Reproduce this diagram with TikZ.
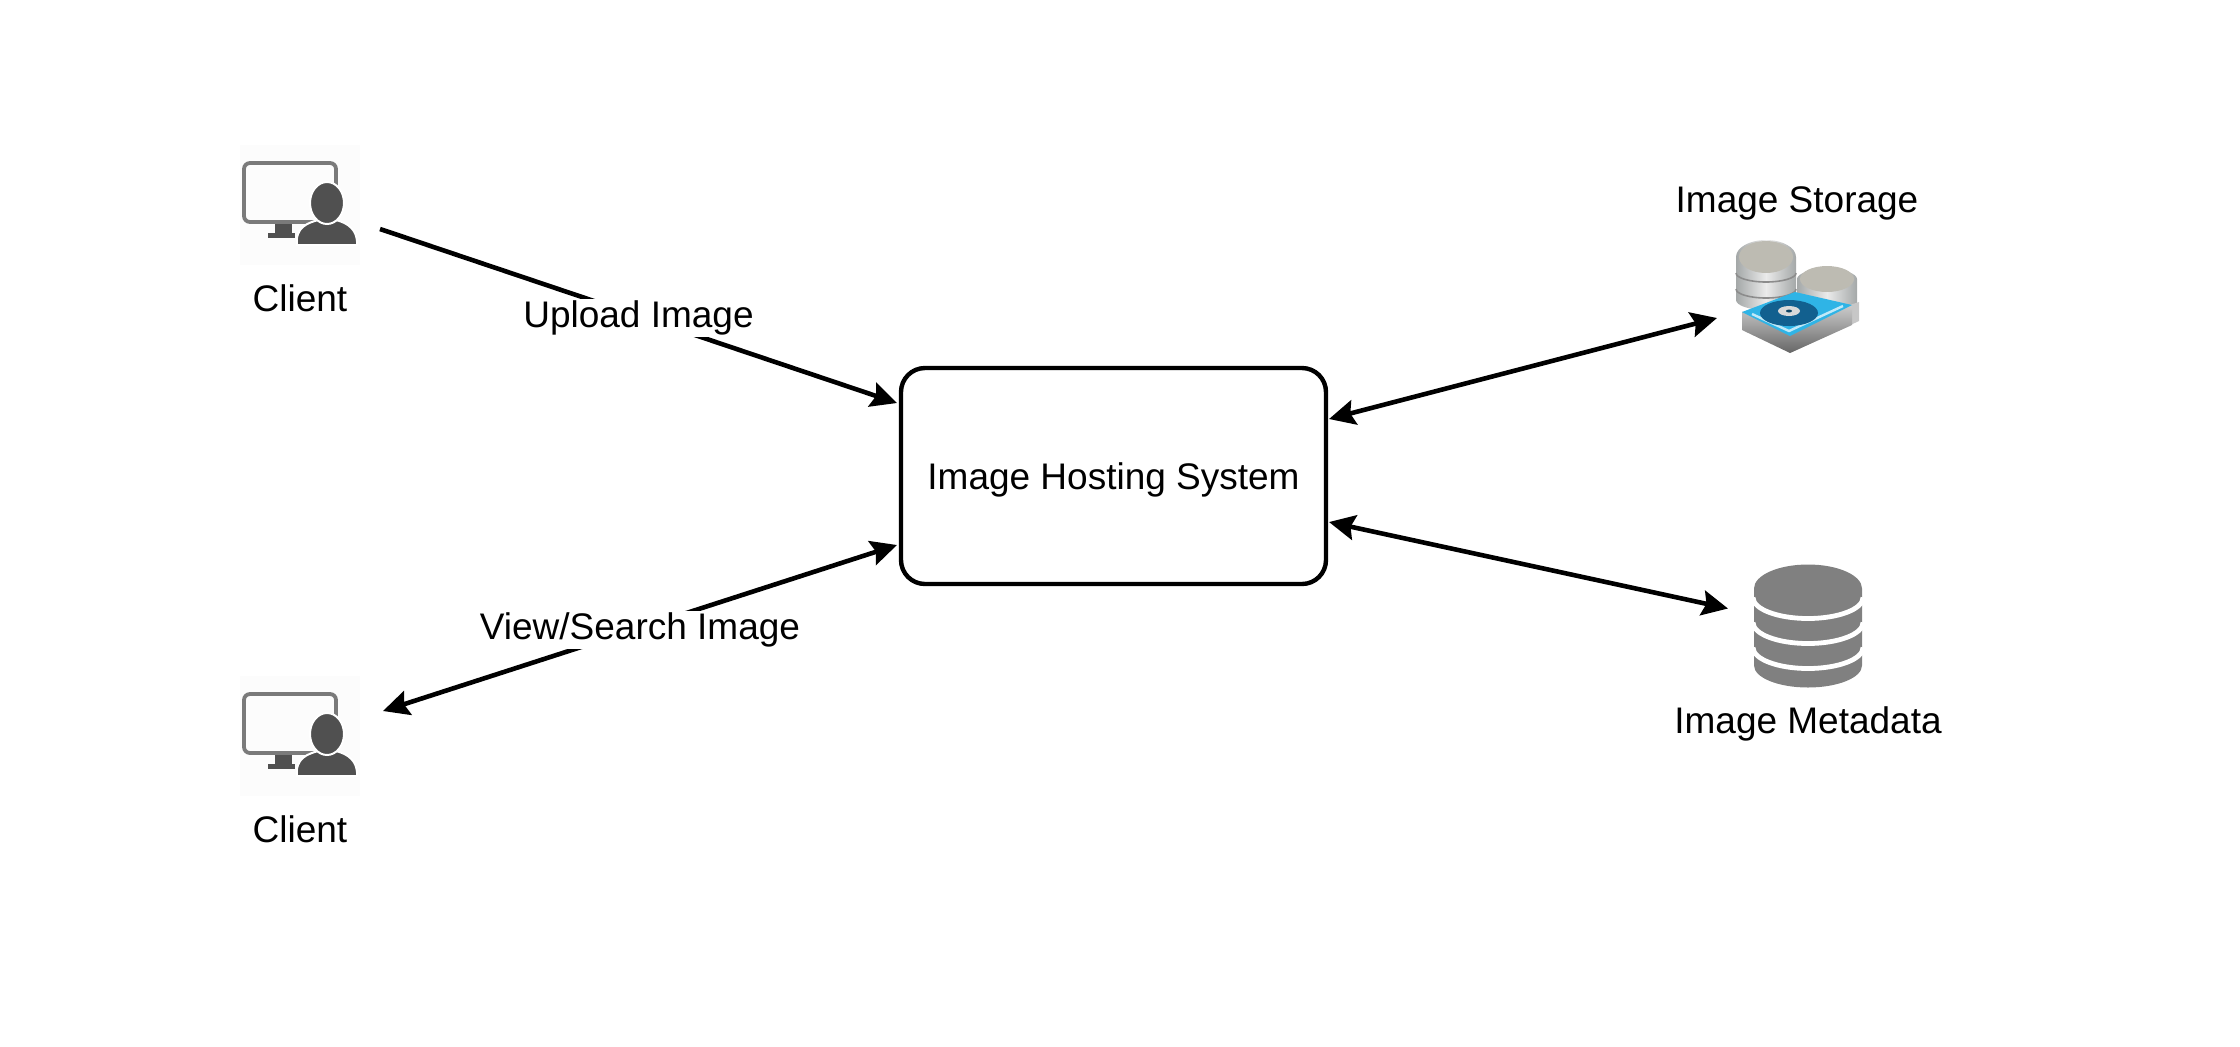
\documentclass[tikz,border=0pt]{standalone}
\usepackage{fontspec}
\setmainfont{Liberation Sans}
\usetikzlibrary{%
	positioning,
	calc,
	arrows.meta
}

\definecolor{iconDark}{HTML}{505050}
\definecolor{iconLine}{HTML}{7A7A7A}
\definecolor{dbGray}{HTML}{808080}
\definecolor{diskGray}{HTML}{A4A8A8}
\definecolor{diskTop}{HTML}{BDBBB2}
\definecolor{driveBlue}{HTML}{2FB4E6}
\definecolor{driveDark}{HTML}{12608F}

\tikzset{
	clienticon/.pic={
		\fill [black!1] (-60,-60) rectangle (60,60);
		\fill [iconDark] (-25,-28) rectangle (-8,-17);
		\fill [iconDark] (-32,-33) rectangle (-5,-28);
		\draw [iconLine, line width=1.9pt, rounded corners=3pt] (-56,-17) rectangle (36,42);
		\fill [iconDark, draw=white, line width=1pt] (-3,-40) .. controls (-5,-22) and (8,-18) .. (18,-15) -- (36,-15) .. controls (48,-18) and (58,-25) .. (57,-40) -- cycle;
		\fill [iconDark, draw=white, line width=1pt] (27,2) ellipse [x radius=17, y radius=21];
	},
	metadataicon/.pic={
		\fill [dbGray] (-54,37) arc [start angle=180, end angle=0, x radius=54, y radius=24] -- (54,-40) arc [start angle=0, end angle=-180, x radius=54, y radius=22] -- cycle;
		\foreach \y in {28,3,-22} {
			\draw [white, line width=2.4pt] (-55,\y) arc [start angle=180, end angle=360, x radius=55, y radius=21];
		}
	},
	storageicon/.pic={
		% back stack
		\shade [left color=diskGray, right color=diskGray, middle color=white!92!black] (0,-12) -- (0,18) arc [start angle=180, end angle=0, x radius=30, y radius=10] -- (60,-8) -- (30,-14) -- cycle;
		\fill [diskTop] (30,18) ellipse [x radius=27, y radius=13];
		% front stack
		\shade [left color=diskGray, right color=diskGray, middle color=white!92!black] (-61,-3) -- (-61,40) arc [start angle=180, end angle=0, x radius=30, y radius=17] -- (-1,-3) arc [start angle=0, end angle=-180, x radius=30, y radius=10] -- cycle;
		\foreach \y in {24,8} {
			\draw [black!45, line width=.8pt] (-61,\y) arc [start angle=180, end angle=360, x radius=30, y radius=9];
		}
		\fill [diskTop] (-31,40) ellipse [x radius=27, y radius=16];
		% drive
		\fill [black!22] (-7,-56) -- (62,-24) -- (62,-5) -- (30,-15) -- cycle;
		\shade [top color=black!20, bottom color=black!60] (-55,-15) -- (-55,-33) -- (-7,-56) -- (55,-28) -- (55,-8) -- cycle;
		\fill [driveBlue] (-55,-15) -- (-2,5) -- (55,-8) -- (-7,-39) -- cycle;
		\draw [white!70!driveBlue, line width=1.2pt] (-45,-17) -- (-8,-34) -- (46,-9);
		\fill [driveDark] (-8,-16) ellipse [x radius=29, y radius=13];
		\fill [black!15] (-8,-14) ellipse [x radius=11, y radius=5];
		\fill [driveDark!70!black] (-8,-14) ellipse [x radius=3, y radius=1.5];
	}
}

\begin{document}
\begin{tikzpicture}[
		x=0.5pt,y=0.5pt,
		box/.style={draw,line width=2.2pt,rounded corners=12pt,minimum width=212.5pt,minimum height=108pt,inner sep=0pt,outer sep=0pt},
		icon/.style={inner sep=0pt,outer sep=0pt},
		itemtext/.style={inner sep=0pt,outer sep=0pt,font=\fontsize{18.5}{22}\selectfont},
		link/.style={line width=2.3pt,-{Stealth[length=13pt,width=12.5pt,inset=2pt]}},
		biglink/.style={line width=2.3pt,{Stealth[length=13pt,width=12.5pt,inset=2pt]}-{Stealth[length=13pt,width=12.5pt,inset=2pt]}},
		linktext/.style={fill=white,inner sep=1pt,pos=.5,yshift=-1pt,font=\fontsize{18.5}{22}\selectfont}
	]
	\useasboundingbox (0,0) rectangle (2240,-1046);
	
	\node(hosting) [box, itemtext, draw, line width=2.2pt, inner sep=0pt, text depth=0pt] at (1113.5,-476) {Image Hosting System};
	
	\node(client1) [icon, minimum size=60pt] at (300,-205) {};
	\pic at (client1) {clienticon};
	\node(client1-text) [itemtext, below=10pt of client1] {Client};
	
	\node(client2) [icon, minimum size=60pt] at (300,-736) {};
	\pic at (client2) {clienticon};
	\node(client2-text) [itemtext, below=10pt of client2] {Client};
	
	\node(storage) [icon, minimum width=61pt, minimum height=57pt] at (1797,-297) {};
	\pic at (storage) {storageicon};
	\node(storage-text) [itemtext, above=10pt of storage] {Image Storage};
	
	\node(metadata) [icon, minimum width=54pt, minimum height=61.5pt] at (1808,-625.5) {};
	\pic at (metadata) {metadataicon};
	\node(metadata-text) [itemtext, below=10pt of metadata] {Image Metadata};
	
	\coordinate (client1-out) at ($(client1.east)+(20,-24)$);
	\coordinate (client2-out) at ($(client2.east)+(23,25)$);
	\coordinate (hosting-upload) at ($(hosting.west)+(-4,73)$);
	\coordinate (hosting-view) at ($(hosting.west)+(-4,-69)$);
	\coordinate (hosting-storage) at ($(hosting.east)+(3,57)$);
	\coordinate (hosting-metadata) at ($(hosting.east)+(3,-46)$);
	\coordinate (storage-in) at ($(storage.west)+(-19,-21)$);
	\coordinate (metadata-in) at ($(metadata.west)+(-26,17)$);
	
	\draw [link] (client1-out) to node [linktext] {Upload Image} (hosting-upload);
	\draw [biglink] (hosting-view) to node [linktext] {View/Search Image} (client2-out);
	\draw [biglink] (hosting-storage) to (storage-in);
	\draw [biglink] (hosting-metadata) to (metadata-in);
\end{tikzpicture}
\end{document}
